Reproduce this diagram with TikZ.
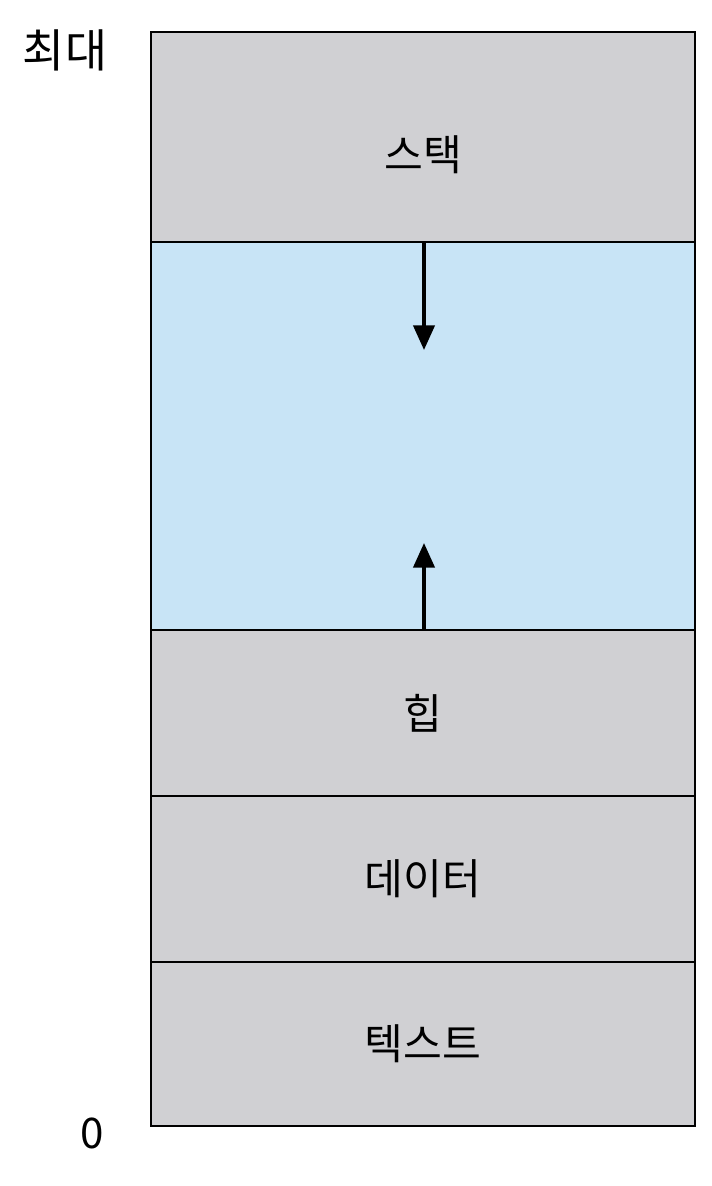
\documentclass[tikz,border=0pt]{standalone}
\usepackage{fontspec}
\newfontfamily\kr{Noto Sans CJK KR}
\usetikzlibrary{arrows.meta}
\definecolor{seggray}{RGB}{208,208,211}
\definecolor{segblue}{RGB}{200,228,246}
\tikzstyle{seg}=[draw, line width=1.4pt, fill=seggray, minimum width=10.88cm, inner sep=0pt, outer sep=0pt, font=\kr\fontsize{24}{28}\selectfont]
\tikzstyle{growarrow}=[line width=2.1pt, -{Triangle[length=14pt,width=12pt]}]
\newcommand{\seg}{\node[seg]}

\begin{document}
\begin{tikzpicture}[x=0.02cm, y=-0.02cm]
\useasboundingbox (0,0) rectangle (712,1186);
\seg[minimum height=4.2cm] (stack) at (423,137) { };
\seg[minimum height=7.76cm, fill=segblue] (free) at (423,436) { };
\seg[minimum height=3.32cm] (heap) at (423,713) {힙};
\seg[minimum height=3.32cm] (data) at (423,879) {데이터};
\seg[minimum height=3.28cm] (text) at (423,1044) {텍스트};
\node[font=\kr\fontsize{24}{28}\selectfont] (stacklbl) at (423,155) {스택};
\node[font=\kr\fontsize{26}{30}\selectfont] (max) at (65,50) {최대};
\node[font=\kr\fontsize{24}{28}\selectfont] (zero) at (92,1133) {0};
\coordinate (down) at (424,350);
\coordinate (up) at (424,543);
\draw[growarrow] (free.north -| down) -- (down);
\draw[growarrow] (free.south -| up) -- (up);
\end{tikzpicture}
\end{document}
